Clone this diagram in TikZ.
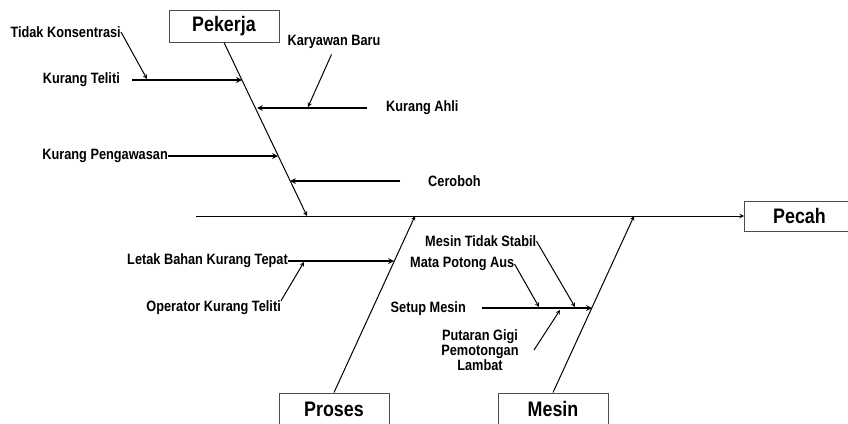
\documentclass[tikz,border=0pt]{standalone}
\usepackage{fontspec}
\setmainfont{Liberation Sans}[FakeStretch=0.85]
\usepackage{tikz}
\usetikzlibrary{arrows,positioning}
\tikzstyle{kotak} = [draw=black!70, line width=1pt, minimum width=110pt, minimum height=32pt, inner sep=0pt, font=\fontsize{21}{24}\selectfont\bfseries]
\tikzstyle{sebab} = [inner sep=0pt, align=center, font=\fontsize{15}{15}\selectfont\bfseries]
\tikzstyle{tulang} = [line width=1pt,->,>=stealth]
\tikzstyle{cabang} = [line width=1.6pt,->,>=stealth]
\tikzstyle{ranting} = [line width=1pt,->,>=stealth]

\begin{document}
\begin{tikzpicture}[x=1pt, y=-1pt]
            \useasboundingbox (0,0) rectangle (848,423);
            % kotak kategori dan akibat
            \node[kotak] (pekerja) at (224,26) {Pekerja};
            \node[kotak] (proses) at (334,409) {Proses};
            \node[kotak] (mesin) at (553,409) {Mesin};
            \node[kotak, minimum height=30pt, anchor=west] (pecah) at (744,216) {Pecah};
            
            % tulang utama
            \coordinate (ekor) at (196,216);
            \draw[tulang] (ekor) -- (pecah.west);
            
            % tulang kategori
            \coordinate (pk) at (307,216);
            \coordinate (pr) at (415,216);
            \coordinate (ms) at (634,216);
            \draw[tulang] (pekerja.south) -- (pk);
            \draw[tulang] (proses.north) -- (pr);
            \draw[tulang] (mesin.north) -- (ms);
            
            % titik pada tulang
            \coordinate (pk1) at (242,80);
            \coordinate (pk2) at (257,108);
            \coordinate (pk3) at (278,156);
            \coordinate (pk4) at (290,181);
            \coordinate (pr1) at (394,261);
            \coordinate (ms1) at (592,308);
            
            % Pekerja
            \node[sebab, anchor=east] (teliti) at (120,80) {Kurang Teliti};
            \coordinate (teliti0) at (132,80);
            \draw[cabang] (teliti0) -- (pk1);
            \node[sebab, anchor=east] (konsentrasi) at (121,32) {Tidak Konsentrasi};
            \coordinate (konsentrasi1) at (147,79);
            \draw[ranting] (konsentrasi.east) -- (konsentrasi1);
            
            \node[sebab, anchor=west] (ahli) at (386,108) {Kurang Ahli};
            \coordinate (ahli0) at (367,108);
            \draw[cabang] (ahli0) -- (pk2);
            \node[sebab] (baru) at (334,42) {Karyawan Baru};
            \coordinate (baru1) at (308,107);
            \draw[ranting, shorten <=6pt] (baru.south) -- (baru1);
            
            \node[sebab, anchor=east] (pengawasan) at (168,156) {Kurang Pengawasan};
            \draw[cabang] (pengawasan.east) -- (pk3);
            
            \node[sebab, anchor=west] (ceroboh) at (428,181) {Ceroboh};
            \coordinate (ceroboh0) at (400,181);
            \draw[cabang] (ceroboh0) -- (pk4);
            
            % Proses
            \node[sebab, anchor=east] (letak) at (288,261) {Letak Bahan Kurang Tepat};
            \draw[cabang] (letak.east) -- (pr1);
            \node[sebab, anchor=east] (operator) at (281,308) {Operator Kurang Teliti};
            \coordinate (operator1) at (304,262);
            \draw[ranting] (operator.north east) -- (operator1);
            
            % Mesin
            \node[sebab, anchor=east] (setup) at (466,309) {Setup Mesin};
            \coordinate (setup0) at (482,308);
            \draw[cabang] (setup0) -- (ms1);
            \node[sebab, anchor=west] (stabil) at (425,241) {Mesin Tidak Stabil};
            \coordinate (stabil1) at (575,307);
            \draw[ranting] (stabil.east) -- (stabil1);
            \node[sebab, anchor=west] (aus) at (410,264) {Mata Potong Aus};
            \coordinate (aus1) at (539,307);
            \draw[ranting] (aus.east) -- (aus1);
            \node[sebab] (putaran) at (480,350) {Putaran Gigi\\Pemotongan\\Lambat};
            \coordinate (putaran0) at (534,350);
            \coordinate (putaran1) at (560,310);
            \draw[ranting] (putaran0) -- (putaran1);
        \end{tikzpicture}
\end{document}
